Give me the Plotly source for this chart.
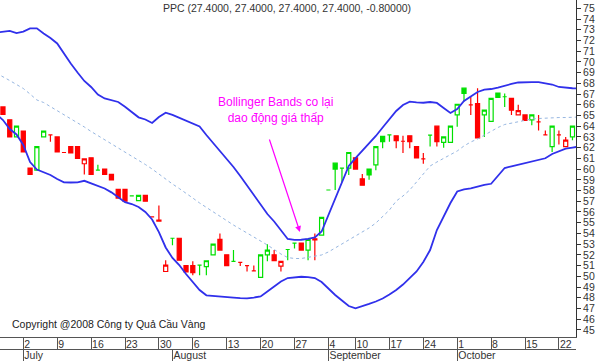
import plotly.graph_objects as go

# ---------------- data ----------------
# trading-day index of each bar (0 = 25 June 2008)
bar_idx = list(range(2, 87))
opens = [65.8, 64.6, 63.0, 63.55, 60.1, 59.9, 63.0, 63.2, 63.0, 61.55,
         62.1, 62.1, 60.5, 61.05, 59.9, 60.0, 59.5, 58.1, 58.1, 57.5,
         57.05, 57.55, 55.55, 55.25, 50.45, 53.55, 53.55, 51.0, 51.0, 51.05,
         50.9, 52.0, 53.45, 52.0, 51.4, 51.3, 51.0, 50.5, 49.9, 52.0,
         52.0, 50.95, 52.5, 53.1, 53.1, 52.45, 53.5, 53.85, 58.05, 60.55,
         60.1, 60.1, 61.05, 59.1, 60.0, 60.4, 63.05, 63.2, 63.1, 62.6,
         63.1, 62.1, 60.95, 63.17, 64.0, 62.5, 62.5, 65.05, 67.55, 66.0,
         66.1, 65.05, 64.45, 67.1, 66.75, 66.6, 65.05, 65.05, 64.6, 64.4,
         63.2, 62.1, 63.2, 62.1, 63.0]
highs = [65.8, 64.6, 64.0, 63.55, 60.1, 62.1, 63.55, 63.2, 63.0, 61.55,
         62.1, 62.1, 60.95, 61.05, 60.4, 60.0, 59.5, 58.1, 58.1, 57.5,
         57.55, 57.55, 55.6, 56.6, 51.5, 53.55, 53.55, 51.0, 51.4, 51.05,
         51.45, 53.0, 54.0, 52.0, 52.45, 51.3, 51.0, 51.0, 52.0, 53.0,
         52.45, 51.45, 52.5, 53.1, 53.1, 53.45, 54.0, 55.5, 58.05, 60.55,
         60.1, 61.55, 61.05, 59.55, 60.0, 62.1, 63.05, 63.2, 63.1, 63.1,
         63.1, 62.1, 61.5, 63.17, 64.0, 63.0, 64.0, 66.05, 67.55, 66.8,
         67.55, 65.5, 66.6, 67.1, 67.05, 66.6, 66.0, 65.05, 65.05, 65.05,
         63.6, 64.0, 63.6, 63.0, 64.0]
lows = [65.1, 63.0, 63.0, 61.6, 59.5, 59.9, 63.0, 62.55, 61.6, 61.55,
        61.5, 61.0, 59.5, 59.5, 59.9, 59.5, 59.0, 57.3, 57.0, 57.5,
        57.05, 57.0, 55.5, 55.1, 50.45, 52.9, 51.5, 50.4, 50.1, 50.1,
        50.1, 52.0, 52.45, 51.0, 51.4, 50.95, 50.45, 50.45, 49.9, 51.4,
        51.45, 50.45, 51.5, 52.6, 52.45, 51.5, 51.5, 53.85, 58.05, 58.05,
        58.8, 59.45, 60.0, 58.5, 59.0, 59.9, 61.95, 62.55, 61.95, 61.5,
        61.95, 61.05, 60.5, 62.1, 62.1, 62.0, 62.5, 63.95, 66.3, 65.05,
        62.9, 63.0, 64.45, 66.7, 65.8, 65.05, 65.05, 64.55, 64.1, 63.6,
        63.2, 61.6, 62.3, 62.1, 62.7]
closes = [65.1, 63.0, 64.0, 61.6, 59.5, 62.1, 63.55, 63.2, 61.6, 61.55,
          61.5, 61.0, 60.95, 59.5, 59.9, 59.5, 59.0, 57.3, 57.0, 57.5,
          57.55, 57.0, 55.55, 55.15, 51.05, 53.55, 51.5, 50.4, 50.35, 51.05,
          51.45, 53.0, 52.45, 51.0, 51.4, 51.3, 51.0, 50.5, 52.0, 52.45,
          51.45, 51.4, 52.5, 53.1, 52.45, 53.45, 53.4, 55.5, 58.05, 60.0,
          60.1, 61.55, 60.0, 58.5, 59.45, 62.1, 62.55, 63.2, 62.65, 62.6,
          62.55, 61.05, 60.95, 63.17, 62.55, 63.0, 64.0, 66.05, 67.07, 66.0,
          62.9, 65.5, 66.6, 66.7, 66.75, 65.5, 65.45, 64.55, 65.05, 64.4,
          63.2, 64.0, 63.2, 62.7, 64.0]

# Bollinger bands, read per trading day
band_idx = list(range(1, 88))
upper = [72.74, 72.79, 72.90, 72.68, 72.82, 73.12, 73.13, 72.65, 72.23, 71.72,
         70.74, 69.85, 69.01, 68.22, 67.66, 66.96, 66.59, 66.42, 66.26, 65.82,
         65.28, 64.83, 64.63, 64.30, 64.86, 65.26, 65.05, 64.77, 64.53, 64.28,
         63.97, 63.18, 62.44, 61.78, 61.03, 60.20, 59.36, 58.47, 57.58, 56.70,
         55.81, 55.11, 54.32, 53.48, 53.39, 53.41, 53.50, 53.62, 54.18, 55.72,
         57.30, 58.89, 60.29, 61.03, 61.69, 62.34, 63.09, 63.88, 64.67, 65.42,
         65.98, 66.29, 66.23, 66.19, 66.26, 66.17, 65.70, 65.23, 65.61, 66.35,
         66.77, 67.19, 67.42, 67.47, 67.61, 67.80, 67.94, 68.08, 68.12, 68.12,
         68.12, 68.03, 67.89, 67.66, 67.57, 67.54, 67.52]
middle = [68.96, 68.64, 68.26, 67.89, 67.52, 67.00, 66.45, 66.21, 65.84, 65.47,
          65.09, 64.72, 64.30, 63.93, 63.51, 63.13, 62.76, 62.39, 62.01, 61.59,
          61.22, 60.85, 60.43, 60.01, 59.54, 59.03, 58.61, 58.19, 57.77, 57.30,
          56.84, 56.42, 56.00, 55.62, 55.20, 54.78, 54.41, 54.04, 53.66, 53.34,
          52.92, 52.50, 52.08, 51.75, 51.66, 51.66, 51.75, 51.85, 51.99, 52.27,
          52.64, 53.01, 53.43, 53.81, 54.18, 54.51, 54.97, 55.62, 56.18, 57.02,
          57.49, 58.05, 58.80, 59.54, 60.29, 60.66, 61.03, 61.36, 61.69, 62.16,
          62.53, 62.81, 63.18, 63.55, 63.88, 64.16, 64.30, 64.44, 64.58, 64.67,
          64.72, 64.77, 64.77, 64.81, 64.81, 64.86, 64.86]
lower = [65.14, 64.58, 63.74, 63.23, 62.25, 60.66, 59.96, 59.73, 59.45, 59.08,
         58.77, 58.75, 58.77, 58.91, 58.66, 58.42, 58.19, 57.83, 57.35, 56.91,
         56.74, 56.46, 56.00, 55.30, 54.13, 52.69, 51.71, 51.05, 50.21, 49.47,
         48.72, 48.23, 48.16, 48.12, 48.07, 48.02, 47.97, 47.95, 48.02, 48.12,
         48.58, 49.09, 49.51, 49.84, 49.93, 49.96, 49.93, 49.84, 49.47, 48.82,
         48.26, 47.74, 47.23, 47.01, 47.18, 47.42, 47.65, 47.93, 48.30, 48.72,
         49.23, 49.84, 50.45, 51.33, 52.45, 54.32, 55.62, 56.84, 57.91, 58.10,
         58.21, 58.38, 58.52, 58.63, 59.36, 60.10, 60.26, 60.40, 60.57, 60.71,
         60.85, 61.01, 61.41, 61.69, 61.90, 62.01, 62.11]

day_tick_idx = [0, 5, 10, 15, 20, 25, 30, 35, 40, 45, 50, 54, 59, 64, 69, 74, 79, 84]
day_tick_txt = ["25", "2", "9", "16", "23", "30", "6", "13", "20", "27",
                "4", "10", "17", "24", "1", "8", "15", "22"]
month_idx = [5, 27, 50, 69]
month_txt = ["July", "August", "September", "October"]

title_txt = "PPC (27.4000, 27.4000, 27.4000, 27.4000, -0.80000)"
copyright_txt = "Copyright @2008 Công ty Quả Cầu Vàng"
note_txt = "Bollinger Bands co lại<br>dao động giá thấp"

# ---------------- styling ----------------
GREEN = "#00e000"
RED = "#ff0000"
BLUE = "rgb(48,48,235)"
FONT = "Liberation Sans, Arial, sans-serif"
W, H = 600, 361
PLOT_W, PLOT_BOTTOM = 576, 337

# colour each bar by close vs previous close (MetaStock style)
green_sel, red_sel = [], []
for k in range(len(bar_idx)):
    ref = closes[k - 1] if k > 0 else opens[k]
    (green_sel if closes[k] >= ref else red_sel).append(k)


def candles(sel, color):
    return go.Candlestick(
        x=[bar_idx[k] for k in sel],
        open=[opens[k] for k in sel],
        high=[highs[k] for k in sel],
        low=[lows[k] for k in sel],
        close=[closes[k] for k in sel],
        increasing=dict(line=dict(color=color, width=1.2), fillcolor="white"),
        decreasing=dict(line=dict(color=color, width=1.2), fillcolor=color),
        whiskerwidth=0, hoverinfo="skip", showlegend=False,
    )


fig = go.Figure()
fig.add_trace(go.Scatter(x=band_idx, y=middle, mode="lines",
                         line=dict(color="rgb(150,182,225)", width=1, dash="dot"),
                         hoverinfo="skip", showlegend=False))
fig.add_trace(go.Scatter(x=band_idx, y=upper, mode="lines",
                         line=dict(color=BLUE, width=1.8), hoverinfo="skip", showlegend=False))
fig.add_trace(go.Scatter(x=band_idx, y=lower, mode="lines",
                         line=dict(color=BLUE, width=1.8), hoverinfo="skip", showlegend=False))
fig.add_trace(candles(green_sel, GREEN))
fig.add_trace(candles(red_sel, RED))
# carrier for the month axis
fig.add_trace(go.Scatter(x=[], y=[], xaxis="x2", yaxis="y", showlegend=False, hoverinfo="skip"))

x_lo = 1.563
x_hi = 86.52
y_hi = 75.774
y_lo = 44.338

tickfont = dict(family=FONT, size=10.5, color="#333333")
fig.update_layout(
    width=W, height=H,
    margin=dict(l=0, r=W - PLOT_W, t=0, b=0),
    paper_bgcolor="white", plot_bgcolor="white",
    showlegend=False, boxgap=0.14,
    xaxis=dict(range=[x_lo, x_hi], domain=[0, 1], anchor="y",
               rangeslider=dict(visible=False), showgrid=False, zeroline=False,
               tickmode="array", tickvals=day_tick_idx, ticktext=day_tick_txt,
               ticks="outside", ticklen=12, tickcolor="#555555", tickwidth=1,
               showline=True, linecolor="#555555", linewidth=1,
               ticklabelposition="outside right", ticklabelstandoff=-3,
               tickfont=tickfont),
    xaxis2=dict(matches="x", overlaying="x", anchor="free", position=12 / H,
                rangeslider=dict(visible=False), showgrid=False, zeroline=False,
                tickmode="array", tickvals=month_idx, ticktext=month_txt,
                ticks="outside", ticklen=12, tickcolor="#555555", tickwidth=1,
                showline=True, linecolor="#555555", linewidth=1,
                ticklabelposition="outside right", ticklabelstandoff=-4,
                tickfont=tickfont),
    yaxis=dict(domain=[(H - PLOT_BOTTOM) / H, 1], range=[y_lo, y_hi], side="right",
               showgrid=False, zeroline=False, tickmode="linear", tick0=45, dtick=1,
               ticks="outside", ticklen=4, tickcolor="#333333",
               showline=True, linecolor="#333333", linewidth=1,
               tickfont=tickfont),
    annotations=[
        dict(text=title_txt, xref="paper", yref="paper", x=287 / PLOT_W, y=1 - 8 / H,
             xanchor="center", yanchor="middle", showarrow=False,
             font=dict(family=FONT, size=10.5, color="#333333")),
        dict(text=copyright_txt, xref="paper", yref="paper", x=10 / PLOT_W, y=1 - 324 / H,
             xanchor="left", yanchor="middle", showarrow=False,
             font=dict(family=FONT, size=10.5, color="#222222")),
        dict(text=note_txt, xref="paper", yref="paper", x=275 / PLOT_W, y=1 - 110 / H,
             xanchor="center", yanchor="middle", showarrow=False, align="center",
             font=dict(family=FONT, size=12, color="#ff00ff")),
        dict(text="", x=45.8, y=54.13, xref="x", yref="y", showarrow=True,
             ax=-31, ay=-94, arrowcolor="#ff00ff", arrowwidth=1.2, arrowhead=2,
             arrowsize=1),
    ],
)

fig.write_html("out.html", config={"displayModeBar": False},
               post_script="document.body.style.margin='0';")
